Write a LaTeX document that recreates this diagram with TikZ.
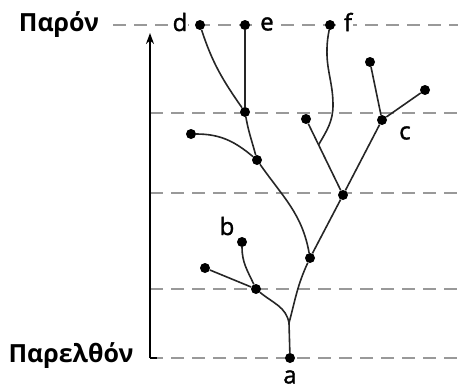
\documentclass[tikz,border=0pt]{standalone}
\usepackage{fontspec}
\setmainfont{Open Sans}
\newfontfamily\lblfont[FakeBold=1.5]{Open Sans}
\usetikzlibrary{calc,arrows.meta}
\begin{document}
\begin{tikzpicture}[x=1pt,y=1pt,
  dot/.style={circle,fill=black,inner sep=0pt,minimum size=10pt},
  branch/.style={line width=1.6pt,black!85},
  timeline/.style={line width=1.8pt,draw=black!40,dash pattern=on 13pt off 8pt},
  lbl/.style={font=\lblfont\fontsize{24}{24}\selectfont,inner sep=1pt},
  era/.style={font=\fontsize{25}{25}\selectfont\bfseries,inner sep=0pt},
  axisline/.style={line width=1.8pt,-{Stealth[length=11pt,width=8pt]}}]
\useasboundingbox (0,0) rectangle (458,-388);
% time levels
\draw[timeline] (113,-25) -- (458,-25);
\draw[timeline] (150,-113) -- (458,-113);
\draw[timeline] (150,-193) -- (458,-193);
\draw[timeline] (150,-289) -- (458,-289);
\draw[timeline] (150,-358) -- (458,-358);
% axis
\coordinate (ax0) at (150,-358);
\coordinate (ax1) at (150,-33);
\draw[line width=1.8pt] (ax0) -- ++(7,0);
\draw[axisline] (ax0) -- (ax1);
% labels on top line
\node[lbl,fill=white] (dl) at (180,-22) {d};
\node[lbl,fill=white] (el) at (267,-24) {e};
\node[lbl,fill=white] (fl) at (348,-22) {f};
% era labels
\node[era] (now) at (59,-25) {Παρόν};
\node[era] (past) at (71,-356) {Παρελθόν};
% nodes
\node[dot] (a) at (290,-358) {};
\node[dot] (n1) at (256,-289) {};
\node[dot] (b) at (242,-242) {};
\node[dot] (l1) at (205,-268) {};
\node[dot] (n2) at (310,-258) {};
\node[dot] (n3) at (257,-160) {};
\node[dot] (l3) at (191,-134) {};
\node[dot] (n4) at (245,-112) {};
\node[dot] (d) at (200,-25) {};
\node[dot] (e) at (245,-25) {};
\node[dot] (n5) at (343,-195) {};
\node[dot] (l5) at (306,-119) {};
\node[dot] (c) at (382,-120) {};
\node[dot] (l6) at (370,-62) {};
\node[dot] (l7) at (425,-90) {};
\node[dot] (f) at (330,-25) {};
\coordinate (s) at (289,-323);
\coordinate (j) at ($(l5)!0.34!(n5)$);
\coordinate (fm) at (333,-105);
\coordinate (fu) at (327,-48);
% letter labels
\node[lbl] (al) at (290,-377) {a};
\node[lbl] (bl) at (227,-226) {b};
\node[lbl] (cl) at (405,-133) {c};
% branches
\draw[branch] (a) -- (s);
\draw[branch] (s) to[out=100,in=-40] (n1);
\draw[branch] (n1) to[out=115,in=-90] (b);
\draw[branch] (n1) -- (l1);
\draw[branch] (s) to[out=75,in=-115] (n2);
\draw[branch] (n2) to[out=100,in=-55] (n3);
\draw[branch] (n3) to[out=140,in=0] (l3);
\draw[branch] (n3) to[out=105,in=-80] (n4);
\draw[branch] (n4) -- (e);
\draw[branch] (n4) to[out=125,in=-72] (d);
\draw[branch] (n2) -- (n5);
\draw[branch] (n5) -- (l5);
\draw[branch] (n5) -- (c);
\draw[branch] (c) -- (l6);
\draw[branch] (c) -- (l7);
\draw[branch] (j) to[out=60,in=-90] (fm) to[out=90,in=-92] (fu) to[out=88,in=-100] (f);
\end{tikzpicture}
\end{document}
